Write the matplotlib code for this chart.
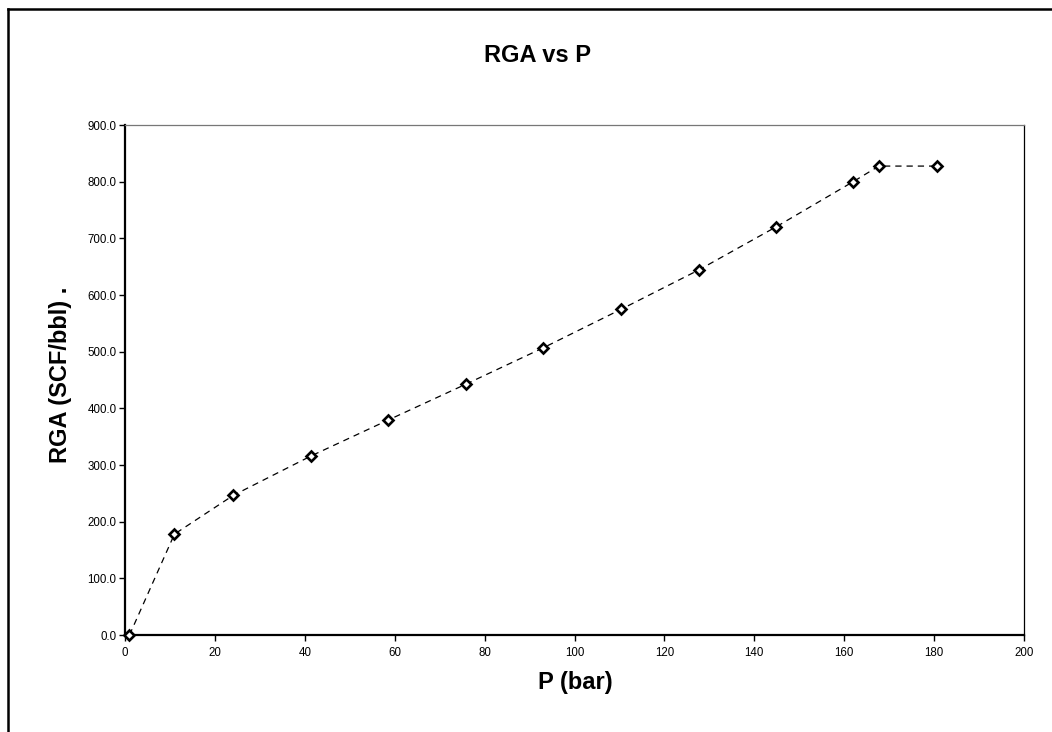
import matplotlib
matplotlib.use('Agg')
import matplotlib.pyplot as plt
from matplotlib.lines import Line2D

# data
pressure_bar = [1.0, 11.0, 24.1, 41.4, 58.6, 75.8, 93.1, 110.3, 127.6, 144.8, 162.0, 167.7, 180.7]
rga_scf_bbl = [0.0, 178.0, 246.5, 316.0, 379.5, 442.5, 507.0, 574.5, 644.0, 720.0, 800.0, 827.5, 827.5]

x_ticks = list(range(0, 201, 20))
y_ticks = [v * 100.0 for v in range(0, 10)]

plt.rcParams['font.family'] = ['Liberation Sans', 'DejaVu Sans']

fig = plt.figure(figsize=(10.52, 7.32), dpi=100)
ax = fig.add_axes([125 / 1052, 1 - 635 / 732, (1024 - 125) / 1052, (635 - 125) / 732])

ax.plot(pressure_bar, rga_scf_bbl, color='black', lw=0.9, linestyle=(0, (5, 4)),
        marker='D', markersize=5.6, markerfacecolor='white',
        markeredgecolor='black', markeredgewidth=1.9, clip_on=False, zorder=3)

ax.set_xlim(0, 200)
ax.set_ylim(0, 900)
ax.set_xticks(x_ticks)
ax.set_yticks(y_ticks)
ax.set_xticklabels([str(t) for t in x_ticks])
ax.set_yticklabels(['%.1f' % t for t in y_ticks])
ax.tick_params(axis='both', direction='out', length=4, width=1, labelsize=8.3, color='black')
ax.tick_params(axis='y', pad=2)
ax.tick_params(axis='x', pad=5)

ax.spines['left'].set_linewidth(1.6)
ax.spines['bottom'].set_linewidth(1.6)
ax.spines['top'].set_linewidth(0.9)
ax.spines['top'].set_color('#777777')
ax.spines['right'].set_linewidth(0.9)
ax.spines['right'].set_color('black')

# titles placed where the reference has them
fig.text(537 / 1052, 1 - 55 / 732, 'RGA vs P', ha='center', va='center',
         fontsize=17, fontweight='bold')
fig.text(575 / 1052, 1 - 683 / 732, 'P (bar)', ha='center', va='center',
         fontsize=17, fontweight='bold')
fig.text(61 / 1052, 1 - 375 / 732, 'RGA (SCF/bbl) .', ha='center', va='center',
         rotation=90, fontsize=17, fontweight='bold')

# chart area border (only left and top visible in the crop)
fig.add_artist(Line2D([8 / 1052, 8 / 1052], [0, 1 - 9 / 732], transform=fig.transFigure,
                      color='black', lw=1.8))
fig.add_artist(Line2D([8 / 1052, 1], [1 - 9 / 732, 1 - 9 / 732], transform=fig.transFigure,
                      color='black', lw=1.8))

fig.savefig('out.png', dpi=100)
